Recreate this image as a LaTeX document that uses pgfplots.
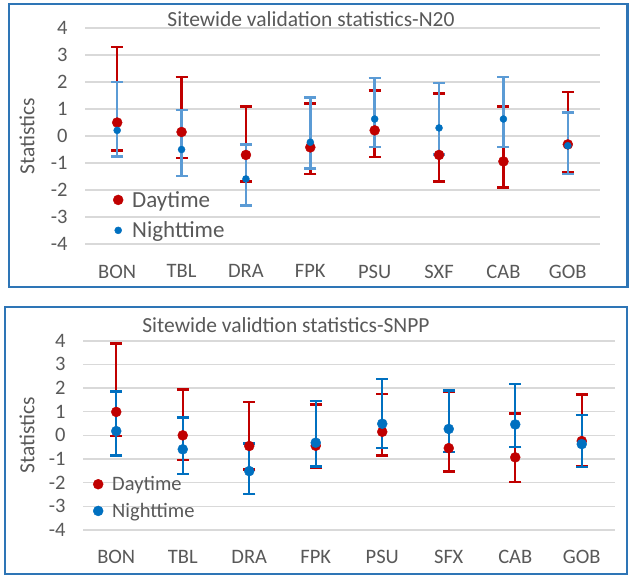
\documentclass[border=0pt]{standalone}
\usepackage{fontspec}
\setmainfont{Carlito}
\usepackage{pgfplots}
\usepackage{pgfplotstable}
\pgfplotsset{compat=1.18}

\definecolor{dayred}{HTML}{C00000}
\definecolor{nightblue}{HTML}{0070C0}
\definecolor{lightblue}{HTML}{5B9BD5}
\definecolor{gridgray}{HTML}{D9D9D9}
\definecolor{txtgray}{HTML}{595959}
\definecolor{frameblue}{HTML}{2E75B6}

% x = site, d* = daytime value/high/low, n* = nighttime value/high/low
\pgfplotstableread{
x dv dh dl nv nh nl
0 0.51 3.30 -0.53 0.22 2.00 -0.75
1 0.16 2.20 -0.81 -0.49 0.97 -1.47
2 -0.69 1.10 -1.68 -1.58 -0.30 -2.57
3 -0.41 1.22 -1.40 -0.22 1.44 -1.20
4 0.22 1.69 -0.77 0.64 2.15 -0.40
5 -0.69 1.59 -1.68 0.31 1.98 -0.68
6 -0.93 1.11 -1.90 0.64 2.20 -0.40
7 -0.30 1.64 -1.32 -0.35 0.88 -1.40
}\noaa

\pgfplotstableread{
x dv dh dl nv nh nl
0 0.99 3.89 -0.03 0.18 1.85 -0.86
1 0.00 1.94 -1.03 -0.59 0.76 -1.63
2 -0.45 1.42 -1.45 -1.51 -0.34 -2.48
3 -0.44 1.30 -1.39 -0.31 1.46 -1.32
4 0.15 1.75 -0.86 0.49 2.38 -0.54
5 -0.54 1.82 -1.52 0.27 1.89 -0.70
6 -0.93 0.93 -1.97 0.46 2.17 -0.48
7 -0.24 1.73 -1.31 -0.37 0.86 -1.35
}\snpp

\pgfplotsset{
  sitechart/.style={
    scale only axis,
    xmin=-0.5, xmax=7.5, ymin=-4, ymax=4,
    xtick={0,...,7},
    ytick={-4,...,4},
    ymajorgrids,
    grid style={gridgray, line width=1.6pt},
    axis line style={draw=none},
    major tick length=0pt,
    tick label style={txtgray, font=\fontsize{20.5}{24}\selectfont},
    /pgf/number format/assume math mode=true,
    yticklabel style={xshift=-14pt},
    xticklabel style={yshift=-17pt},
    clip=false,
    legend cell align=left,
    legend style={draw=none, fill=none, inner sep=0pt,
      nodes={inner sep=0pt, text=txtgray}},
    /tikz/every odd column/.append style={column sep=8pt},
    legend image code/.code={\path[draw=none, fill=none] (-6pt,-6pt) rectangle (6pt,6pt);
      \draw[##1] plot coordinates {(0pt,0pt)};},
  },
  % #1 = dot colour, #2 = bar colour, #3 = dot size
  sitebar/.style n args={3}{only marks, mark=*, color=#1, mark size=#3,
    error bars/.cd, y dir=both, y explicit,
    error bar style={line width=2.4pt, #2},
    error mark options={rotate=90, line width=2.4pt, mark size=6pt, #2}},
}

\begin{document}
\begin{tikzpicture}
\useasboundingbox (0,0) rectangle (629pt,575pt);
\fill[white] (0,0) rectangle (629pt,575pt);
\draw[frameblue, line width=2.5pt] (9pt,288pt) rectangle (627.5pt,571pt);
\draw[frameblue, line width=2pt] (5pt,1pt) rectangle (627pt,268pt);

% N20
\begin{axis}[sitechart,
  at={(85pt,330.7pt)}, anchor=south west, width=515pt, height=216pt,
  xticklabels={BON,TBL,DRA,FPK,PSU,SXF,CAB,GOB},
  legend style={at={(axis description cs:0,0)}, anchor=south west,
    xshift=27pt, yshift=5pt, row sep=13pt, font=\fontsize{23}{27}\selectfont}]
\addplot[sitebar={dayred}{dayred}{5pt}]
  table[x=x, y=dv, y error plus expr=\thisrow{dh}-\thisrow{dv},
        y error minus expr=\thisrow{dv}-\thisrow{dl}] {\noaa};
\addlegendentry{Daytime}
\addplot[sitebar={nightblue}{lightblue}{3.5pt}]
  table[x=x, y=nv, y error plus expr=\thisrow{nh}-\thisrow{nv},
        y error minus expr=\thisrow{nv}-\thisrow{nl}] {\noaa};
\addlegendentry{Nighttime}
\end{axis}
\node[txtgray, font=\fontsize{21.5}{26}\selectfont] at (311pt,556pt)
  {Sitewide validation statistics-N20};
\node[txtgray, rotate=90, font=\fontsize{21.5}{26}\selectfont] at (27pt,439pt)
  {Statistics};

% SNPP
\begin{axis}[sitechart,
  at={(83pt,45pt)}, anchor=south west, width=532pt, height=189.3pt,
  xticklabels={BON,TBL,DRA,FPK,PSU,SFX,CAB,GOB},
  legend style={at={(axis description cs:0,0)}, anchor=south west,
    xshift=9pt, yshift=11pt, row sep=11pt, font=\fontsize{20.5}{24}\selectfont}]
\addplot[sitebar={dayred}{dayred}{5pt}]
  table[x=x, y=dv, y error plus expr=\thisrow{dh}-\thisrow{dv},
        y error minus expr=\thisrow{dv}-\thisrow{dl}] {\snpp};
\addlegendentry{Daytime}
\addplot[sitebar={nightblue}{nightblue}{5pt}]
  table[x=x, y=nv, y error plus expr=\thisrow{nh}-\thisrow{nv},
        y error minus expr=\thisrow{nv}-\thisrow{nl}] {\snpp};
\addlegendentry{Nighttime}
\end{axis}
\node[txtgray, font=\fontsize{21.5}{26}\selectfont] at (286pt,250pt)
  {Sitewide validtion statistics-SNPP};
\node[txtgray, rotate=90, font=\fontsize{21.5}{26}\selectfont] at (27pt,140pt)
  {Statistics};
\end{tikzpicture}
\end{document}
